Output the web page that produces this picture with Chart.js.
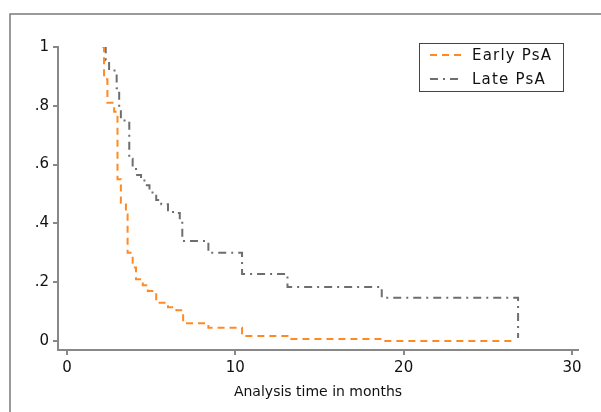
<!DOCTYPE html>
<html>
<head>
<meta charset="utf-8">
<script src="https://cdn.jsdelivr.net/npm/chart.js@4/dist/chart.umd.min.js"></script>
<style>
  html, body { margin: 0; padding: 0; background: #fff; }
  #wrap { width: 601px; height: 412px; position: relative; }
</style>
</head>
<body>
<div id="wrap"><canvas id="km"></canvas></div>
<script>
// Kaplan-Meier steps (time in months, survival)
const earlyTimes = [2.1, 2.2, 2.4, 2.8, 3.0, 3.2, 3.5, 3.6, 3.9, 4.1, 4.5, 4.8, 5.3, 6.0, 6.5, 6.9, 8.4, 10.4, 13.1, 18.7, 26.4];
const earlySurv  = [1.0, 0.89, 0.81, 0.78, 0.55, 0.47, 0.43, 0.30, 0.25, 0.21, 0.19, 0.17, 0.13, 0.115, 0.105, 0.06, 0.045, 0.017, 0.007, 0.0, 0.0];

const lateTimes = [2.2, 2.3, 2.5, 2.95, 3.1, 3.2, 3.7, 3.9, 4.1, 4.4, 4.6, 4.9, 5.3, 5.6, 6.0, 6.3, 6.7, 6.85, 8.4, 10.4, 13.1, 18.7, 26.8];
const lateSurv  = [1.0, 0.955, 0.92, 0.86, 0.80, 0.75, 0.62, 0.59, 0.565, 0.55, 0.53, 0.505, 0.48, 0.465, 0.445, 0.435, 0.41, 0.34, 0.30, 0.228, 0.184, 0.147, 0.01];

const seriesNames = ['Early PsA', 'Late PsA'];
const xTickValues = [0, 10, 20, 30];
const yTickValues = [0, 0.2, 0.4, 0.6, 0.8, 1];
const yTickLabels = ['0', '.2', '.4', '.6', '.8', '1'];

const ORANGE = '#ff8a24';
const GRAY = '#6e6e70';
const AXIS = '#888888';

function toPoints(times, surv) {
  return times.map((t, i) => ({ x: t, y: surv[i] }));
}

// outer frame + legend box (Stata look)
const stataDecor = {
  id: 'stataDecor',
  beforeDraw(chart) {
    const ctx = chart.ctx;
    ctx.save();
    ctx.fillStyle = '#fff';
    ctx.fillRect(0, 0, chart.width, chart.height);
    ctx.strokeStyle = '#7a7a7a';
    ctx.lineWidth = 1.5;
    ctx.strokeRect(10, 14, 800, 600);
    ctx.restore();
  },
  afterDraw(chart) {
    const ctx = chart.ctx;
    ctx.save();
    ctx.strokeStyle = '#444';
    ctx.lineWidth = 1;
    ctx.strokeRect(419.5, 43.5, 144, 48);
    const rows = [55, 79];
    chart.data.datasets.forEach((ds, i) => {
      ctx.strokeStyle = ds.borderColor;
      ctx.lineWidth = 2;
      ctx.setLineDash(ds.borderDash);
      ctx.beginPath();
      ctx.moveTo(430, rows[i]);
      ctx.lineTo(462, rows[i]);
      ctx.stroke();
      ctx.setLineDash([]);
      ctx.fillStyle = '#111';
      ctx.font = '15px "DejaVu Sans"';
      ctx.letterSpacing = '1.2px';
      ctx.textBaseline = 'middle';
      ctx.fillText(ds.label, 472, rows[i] + 1);
    });
    ctx.restore();
  }
};

const ctx = document.getElementById('km').getContext('2d');
new Chart(ctx, {
  type: 'line',
  data: {
    datasets: [
      {
        label: seriesNames[0],
        data: toPoints(earlyTimes, earlySurv),
        borderColor: ORANGE,
        borderWidth: 2,
        borderDash: [7, 5],
        stepped: 'before',
        pointRadius: 0,
        fill: false
      },
      {
        label: seriesNames[1],
        data: toPoints(lateTimes, lateSurv),
        borderColor: GRAY,
        borderWidth: 2,
        borderDash: [8, 5, 2, 5],
        stepped: 'before',
        pointRadius: 0,
        fill: false
      }
    ]
  },
  options: {
    responsive: true,
    maintainAspectRatio: false,
    animation: false,
    layout: { padding: { top: 47, right: 23, left: 0, bottom: 0 } },
    plugins: {
      legend: { display: false },
      tooltip: { enabled: false },
      title: { display: false }
    },
    scales: {
      x: {
        type: 'linear',
        min: -0.535,
        max: 30.36,
        afterBuildTicks: s => { s.ticks = xTickValues.map(v => ({ value: v })); },
        afterFit: s => { s.height = 62; },
        grid: { drawOnChartArea: false, drawTicks: true, tickLength: 5, color: AXIS, lineWidth: 2 },
        border: { display: true, color: AXIS, width: 2 },
        ticks: {
          color: '#111',
          padding: 4,
          maxRotation: 0,
          font: { family: 'DejaVu Sans', size: 15 },
          callback: v => String(v)
        },
        title: {
          display: true,
          text: 'Analysis time in months',
          color: '#111',
          font: { family: 'DejaVu Sans', size: 14 },
          padding: { top: 6, bottom: 11 }
        }
      },
      y: {
        min: -0.0306,
        max: 1,
        afterBuildTicks: s => { s.ticks = yTickValues.map(v => ({ value: v })); },
        afterFit: s => { s.width = 58; },
        grid: { drawOnChartArea: false, drawTicks: true, tickLength: 5, color: AXIS, lineWidth: 2 },
        border: { display: true, color: AXIS, width: 2 },
        ticks: {
          color: '#111',
          padding: 4,
          font: { family: 'DejaVu Sans', size: 15 },
          callback: v => yTickLabels[yTickValues.findIndex(t => Math.abs(t - v) < 1e-6)]
        }
      }
    }
  },
  plugins: [stataDecor]
});
</script>
</body>
</html>
